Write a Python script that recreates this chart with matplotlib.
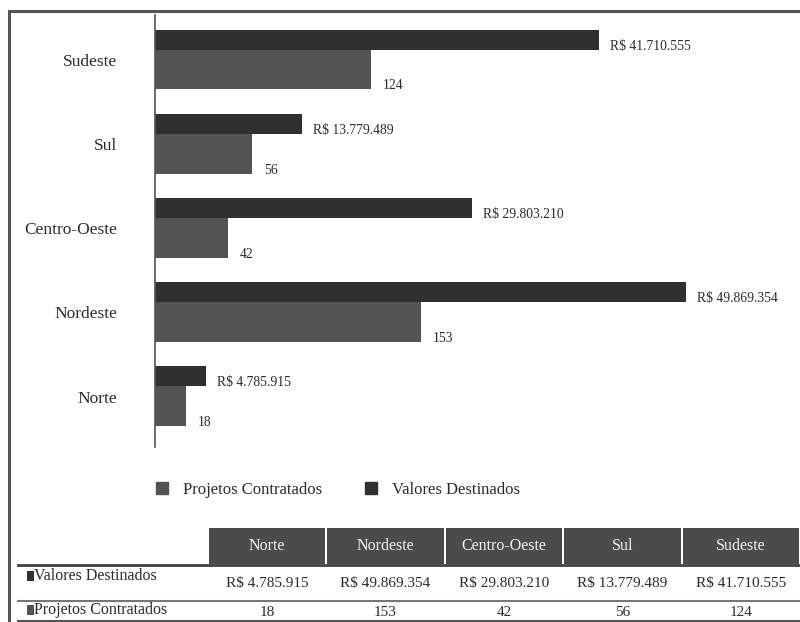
import matplotlib
matplotlib.use("Agg")
import matplotlib.pyplot as plt
from matplotlib.patches import Patch, Rectangle
from matplotlib.lines import Line2D

# dados por região
regioes = ["Norte", "Nordeste", "Centro-Oeste", "Sul", "Sudeste"]
valores = [4785915, 49869354, 29803210, 13779489, 41710555]
projetos = [18, 153, 42, 56, 124]

COR_VALOR = "#303030"
COR_PROJ = "#545454"
COR_TEXTO = "#2b2b2b"


def brl(v):
    return "R$ " + f"{v:,}".replace(",", ".")


W, H = 800, 622
plt.rcParams["font.family"] = ["Liberation Serif", "DejaVu Serif"]

fig = plt.figure(figsize=(8, 6.22), dpi=100)


def fx(x):
    return x / W


def fy(y):
    return 1 - y / H


# moldura externa
fig.add_artist(Line2D([fx(9), fx(9)], [fy(11), fy(622)], color="#555555", lw=2.2))
fig.add_artist(Line2D([fx(9), fx(800)], [fy(11), fy(11)], color="#555555", lw=2.2))

# --- gráfico de barras (duas escalas) ---
ax = fig.add_axes([fx(155), fy(447), fx(790) - fx(155), fy(15) - fy(447)])
axp = ax.twiny()

pos = list(range(len(regioes)))
ax.barh([p + 0.24 for p in pos], valores, height=0.24, color=COR_VALOR)
axp.barh([p - 0.115 for p in pos], projetos, height=0.47, color=COR_PROJ)

ax.set_xlim(0, 59.64e6)
axp.set_xlim(0, 365.2)
ax.set_ylim(-0.60, 4.535)

for a in (ax, axp):
    for s in ("top", "right", "bottom"):
        a.spines[s].set_visible(False)
    a.set_xticks([])
axp.spines["left"].set_visible(False)
ax.spines["left"].set_color("#555555")
ax.spines["left"].set_linewidth(1.2)

ax.set_yticks(pos, regioes)
ax.tick_params(axis="y", length=0, pad=27, labelsize=12.5, labelcolor=COR_TEXTO)

for p, v in zip(pos, valores):
    ax.annotate(brl(v), xy=(v, p + 0.12), xytext=(8, 2.5), textcoords="offset points",
                va="center", ha="left", fontsize=9.8, color=COR_TEXTO)
for p, n in zip(pos, projetos):
    axp.annotate(str(n), xy=(n, p - 0.35), xytext=(8.5, 2.5), textcoords="offset points",
                 va="center", ha="left", fontsize=9.8, color=COR_TEXTO)

# legenda
handles = [Patch(color=COR_PROJ, label="Projetos Contratados"),
           Patch(color=COR_VALOR, label="Valores Destinados")]
fig.legend(handles=handles, loc="center", bbox_to_anchor=(fx(338), fy(490)), ncol=2,
           frameon=False, fontsize=12, handlelength=0.7, handleheight=0.7,
           handletextpad=0.9, columnspacing=2.6, labelcolor=COR_TEXTO)

# --- tabela de dados ---
x0, larg = 208, 118.4
for i, r in enumerate(regioes):
    xa = x0 + i * larg
    fig.add_artist(Rectangle((fx(xa + 1), fy(564)), (larg - 2) / W, 36 / H,
                             transform=fig.transFigure, facecolor="#4b4b4b",
                             edgecolor="none"))
    xc = fx(xa + larg / 2)
    fig.text(xc, fy(546), r, ha="center", va="center", fontsize=11.5, color="#f2f2f2")
    fig.text(xc, fy(584), brl(valores[i]), ha="center", va="center", fontsize=11,
             color=COR_TEXTO)
    fig.text(xc, fy(612), str(projetos[i]), ha="center", va="center", fontsize=11,
             color=COR_TEXTO)

fig.add_artist(Line2D([fx(18), fx(800)], [fy(565), fy(565)], color="#404040", lw=2))
fig.add_artist(Line2D([fx(18), fx(800)], [fy(601), fy(601)], color="#777777", lw=1.5))
fig.add_artist(Line2D([fx(18), fx(800)], [fy(620.5), fy(620.5)], color="#555555", lw=1.5))

linhas = [("Valores Destinados", COR_VALOR, 576), ("Projetos Contratados", COR_PROJ, 610)]
for nome, cor, yc in linhas:
    fig.add_artist(Rectangle((fx(27), fy(yc + 5)), 7 / W, 10 / H,
                             transform=fig.transFigure, facecolor=cor, edgecolor="none"))
    fig.text(fx(34), fy(yc), nome, ha="left", va="center", fontsize=11.5, color=COR_TEXTO)

fig.savefig("out.png", dpi=100)
